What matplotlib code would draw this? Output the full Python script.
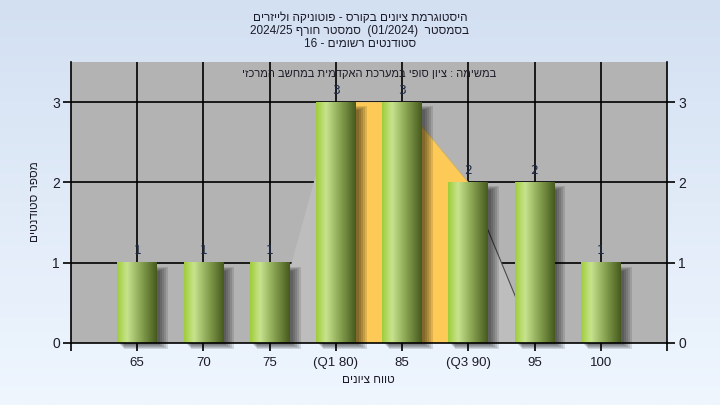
import numpy as np
import matplotlib as mpl
import matplotlib.pyplot as plt
from matplotlib.patches import Rectangle, Polygon
from matplotlib.colors import LinearSegmentedColormap

# ── data ────────────────────────────────────────────────────────────────
CATEGORIES = ["65", "70", "75", "(Q1 80)", "85", "(Q3 90)", "95", "100"]
COUNTS = [1, 1, 1, 3, 3, 2, 2, 1]
# distribution outline drawn behind the bars (category index, height)
CURVE_IDX = [2, 3, 4, 5, 6]
CURVE_VAL = [0, 3, 3, 2, 0]
Q1_IDX, Q3_IDX = 3, 5

TITLE_LINES = [
    "היסטוגרמת ציונים בקורס - פוטוניקה ולייזרים",
    ("2024/25", "סמסטר חורף", "(01/2024)", "בסמסטר"),
    ("16 -", "סטודנטים רשומים"),
]
SUBTITLE = "במשימה : ציון סופי במערכת האקדמית במחשב המרכזי"
XLABEL = "טווח ציונים"
YLABEL = "מספר סטודנטים"


def heb(s):
    # logical RTL text -> visual order for matplotlib's LTR layout
    return s[::-1]


PLOT_BG, LIGHT, ORANGE = "#b3b3b3", "#bdbdbd", "#fdca58"
INK = "#1c1c28"

mpl.rcParams.update({
    "font.family": ["Liberation Sans", "DejaVu Sans"],
    "text.color": INK,
    "axes.linewidth": 1.2,
})

fig = plt.figure(figsize=(7.2, 4.05), dpi=100)

# light blue vertical gradient background
bg = fig.add_axes([0, 0, 1, 1], zorder=-10)
bg.imshow(np.linspace(0, 1, 256).reshape(-1, 1),
          cmap=LinearSegmentedColormap.from_list("bg", ["#d3e0f2", "#eff6fe"]),
          aspect="auto", extent=[0, 1, 0, 1], origin="upper")
bg.axis("off")

ax = fig.add_axes([71 / 720, 1 - 343 / 405, 596 / 720, 281 / 405])
ax.set_facecolor(PLOT_BG)
x = np.arange(len(CATEGORIES))

# grid first, the light distribution area sits on top of it
for v in (1, 2, 3):
    ax.axhline(v, color="black", lw=1.2, zorder=1)
for xi in x:
    ax.axvline(xi, color="black", lw=1.2, zorder=1)

ax.add_patch(Polygon(list(zip(CURVE_IDX, CURVE_VAL)), closed=True,
                     facecolor=LIGHT, edgecolor="none", zorder=2))
# orange band between Q1 and Q3
band = [(Q1_IDX, 0)] + [(i, v) for i, v in zip(CURVE_IDX, CURVE_VAL)
                        if Q1_IDX <= i <= Q3_IDX] + [(Q3_IDX, 0)]
ax.add_patch(Polygon(band, closed=True, facecolor=ORANGE,
                     edgecolor="none", zorder=2.1))
ax.plot(CURVE_IDX[-2:], CURVE_VAL[-2:], color="#4a4a4a", lw=0.8, zorder=2.2)
ax.plot(CURVE_IDX[2:4], CURVE_VAL[2:4], color="#c8b070", lw=0.6, zorder=2.2)

# bars: horizontal green gradient with a soft shadow on the right
bar_cmap = LinearSegmentedColormap.from_list(
    "bar", [(0, "#9fcd3a"), (0.25, "#c8e38e"), (0.6, "#89a452"),
            (1, "#465a1e")])
grad = np.linspace(0, 1, 128).reshape(1, -1)
w = 0.6
px, py = 1 / 66.2, 1 / 80.0
for xi, h in zip(x, COUNTS):
    for k in range(5):
        ax.add_patch(Rectangle((xi - w / 2 + (3 + k) * px, -(2 + k) * py),
                               w + k * px,
                               h - (6 - 2 * k) * py,
                               facecolor="black", alpha=0.12,
                               edgecolor="none", zorder=2.5, clip_on=False))
    ax.imshow(grad, cmap=bar_cmap, aspect="auto", zorder=3,
              extent=[xi - w / 2, xi + w / 2, 0, h])
    ax.text(xi, h + 0.15, str(h), ha="center", va="center",
            fontsize=9, color="#1d2b48", zorder=4, family="DejaVu Sans")

ax.set_xlim(-1, 8)
ax.set_ylim(0, 3.5)

ax.set_xticks(x)
ax.set_xticklabels(CATEGORIES, fontsize=9.5)
ax.set_xticks([-1, 8], minor=True)
ax.set_yticks([0, 1, 2, 3])
ax.tick_params(axis="both", which="both", direction="out", length=6,
               width=1.2, colors="black", labelcolor=INK)
ax.tick_params(axis="y", labelsize=10, right=True, labelright=True, pad=2)
ax.tick_params(axis="x", pad=4)
ax.spines["top"].set_visible(False)
for s in ("left", "right", "bottom"):
    ax.spines[s].set_color("black")
    ax.spines[s].set_zorder(5)

ax.text(0.5, (343 - 74) / 281, heb(SUBTITLE), transform=ax.transAxes,
        ha="center", va="center", fontsize=8, color=INK, zorder=6)

# titles (visual order, RTL)
l2 = TITLE_LINES[1]
title = [heb(TITLE_LINES[0]),
         f"{l2[0]} {heb(l2[1])}  {l2[2]}  {heb(l2[3])}",
         f"{TITLE_LINES[2][0]} {heb(TITLE_LINES[2][1])}"]
for i, line in enumerate(title):
    fig.text(0.5, 1 - (18 + 13 * i) / 405, line, ha="center", va="center",
             fontsize=8.5, color=INK)

fig.text(368 / 720, 1 - 380 / 405, heb(XLABEL), ha="center", va="center",
         fontsize=8.5, color=INK)
fig.text(35 / 720, 1 - 202 / 405, heb(YLABEL), ha="center", va="center",
         rotation=90, fontsize=8.5, color=INK)

fig.savefig("out.png", dpi=100)
